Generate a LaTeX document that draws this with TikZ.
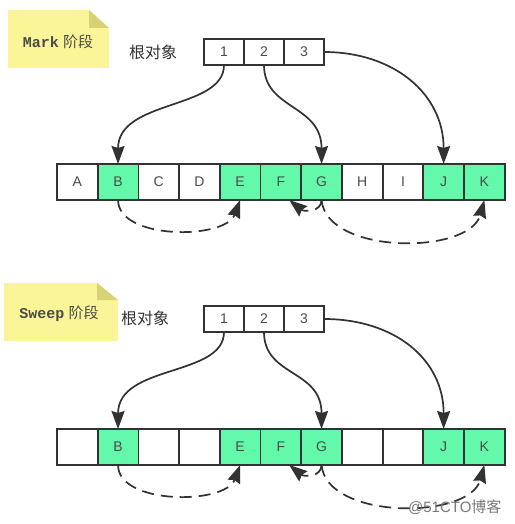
\documentclass[tikz,border=0pt]{standalone}
\usepackage{fontspec}
\setmainfont{Liberation Sans}
\newfontfamily\cjk{Noto Sans CJK SC}
\newfontfamily\mono{Liberation Mono}
\usepackage{tikz}
\usetikzlibrary{arrows.meta, positioning}
\definecolor{mydark}{RGB}{50,50,50}
\definecolor{mytext}{RGB}{75,75,75}
\definecolor{mylive}{RGB}{100,248,170}
\definecolor{notefill}{RGB}{250,245,150}
\definecolor{notefold}{RGB}{215,210,115}
\definecolor{mywater}{RGB}{120,120,120}
\tikzset{
  cell/.style={rectangle, draw=mydark, fill=white, line width=1.8pt,
    minimum width=40.7pt, minimum height=36pt, inner sep=0pt, outer sep=0pt,
    font=\fontsize{14}{16}\selectfont, text=mytext},
  live/.style={cell, fill=mylive},
  rootbox/.style={rectangle, draw=mydark, fill=white, line width=1.8pt,
    minimum width=40pt, minimum height=26pt, inner sep=0pt, outer sep=0pt,
    font=\fontsize{14}{16}\selectfont, text=mytext},
  ref/.style={-{Stealth[length=18pt, width=13pt, inset=2pt]}, line width=1.7pt, color=mydark},
  scan/.style={ref, dash pattern=on 12pt off 7pt},
  notetext/.style={font=\fontsize{15}{17}\selectfont, text=mytext},
  rootlabel/.style={font=\cjk\fontsize{16}{18}\selectfont, text=mydark}
}

\begin{document}
\begin{tikzpicture}[x=1pt, y=-1pt]
  \useasboundingbox (0,0) rectangle (514,524);

  % Mark phase: note and root set
  \fill[notefill] (8,10) -- (89,10) -- (109,28) -- (109,68) -- (8,68) -- cycle;
  \fill[notefold] (89,10) -- (109,28) -- (89,28) -- cycle;
  \node[notetext] (mnote) at (58,42) {{\mono\bfseries Mark} {\cjk 阶段}};
  \node[rootlabel] (mlabel) at (153,52) {根对象};
  \node[rootbox, anchor=north west] (mr1) at (204,39) {1};
  \node[rootbox, right=0pt of mr1] (mr2) {2};
  \node[rootbox, right=0pt of mr2] (mr3) {3};

  % Mark phase: heap cells
  \node[cell, anchor=north west] (mA) at (57,164) {A};
  \node[live, right=0pt of mA] (mB) {B};
  \node[cell, right=0pt of mB] (mC) {C};
  \node[cell, right=0pt of mC] (mD) {D};
  \node[live, right=0pt of mD] (mE) {E};
  \node[live, right=0pt of mE] (mF) {F};
  \node[live, right=0pt of mF] (mG) {G};
  \node[cell, right=0pt of mG] (mH) {H};
  \node[cell, right=0pt of mH] (mI) {I};
  \node[live, right=0pt of mI] (mJ) {J};
  \node[live, right=0pt of mJ] (mK) {K};

  % Mark phase: references from roots
  \draw[ref] (mr1.south) .. controls +(0,45) and +(0,-65) .. (mB.north);
  \draw[ref] (mr2.south) .. controls +(0,45) and +(0,-60) .. (mG.north);
  \draw[ref] (mr3.east) .. controls +(70,0) and +(0,-70) .. (mJ.north);

  % Mark phase: references between objects
  \draw[scan] (mB.south) .. controls +(0,40) and +(-15,40) .. (mE.south);
  \draw[scan] (mG.south) .. controls +(0,12) and +(15,12) .. ([xshift=-12pt]mF.south east);
  \draw[scan] (mG.south) .. controls +(5,55) and +(-15,55) .. (mK.south);

  % Sweep phase: note and root set
  \fill[notefill] (4,283) -- (97,283) -- (118,300) -- (118,341) -- (4,341) -- cycle;
  \fill[notefold] (97,283) -- (118,300) -- (97,300) -- cycle;
  \node[notetext] (snote) at (59,314) {{\mono\bfseries Sweep} {\cjk 阶段}};
  \node[rootlabel] (slabel) at (145,318) {根对象};
  \node[rootbox, anchor=north west] (sr1) at (204,306) {1};
  \node[rootbox, right=0pt of sr1] (sr2) {2};
  \node[rootbox, right=0pt of sr2] (sr3) {3};

  % Sweep phase: heap cells
  \node[cell, anchor=north west] (sA) at (57,429) {};
  \node[live, right=0pt of sA] (sB) {B};
  \node[cell, right=0pt of sB] (sC) {};
  \node[cell, right=0pt of sC] (sD) {};
  \node[live, right=0pt of sD] (sE) {E};
  \node[live, right=0pt of sE] (sF) {F};
  \node[live, right=0pt of sF] (sG) {G};
  \node[cell, right=0pt of sG] (sH) {};
  \node[cell, right=0pt of sH] (sI) {};
  \node[live, right=0pt of sI] (sJ) {J};
  \node[live, right=0pt of sJ] (sK) {K};

  % Sweep phase: references from roots
  \draw[ref] (sr1.south) .. controls +(0,45) and +(0,-65) .. (sB.north);
  \draw[ref] (sr2.south) .. controls +(0,45) and +(0,-60) .. (sG.north);
  \draw[ref] (sr3.east) .. controls +(70,0) and +(0,-70) .. (sJ.north);

  % Sweep phase: references between objects
  \draw[scan] (sB.south) .. controls +(0,40) and +(-15,40) .. (sE.south);
  \draw[scan] (sG.south) .. controls +(0,12) and +(15,12) .. ([xshift=-12pt]sF.south east);
  \draw[scan] (sG.south) .. controls +(5,55) and +(-15,55) .. (sK.south);

  % watermark
  \node[anchor=east, text=mywater, font=\fontsize{15}{17}\selectfont] (water) at (505,507) {@51CTO{\cjk 博客}};
\end{tikzpicture}
\end{document}
